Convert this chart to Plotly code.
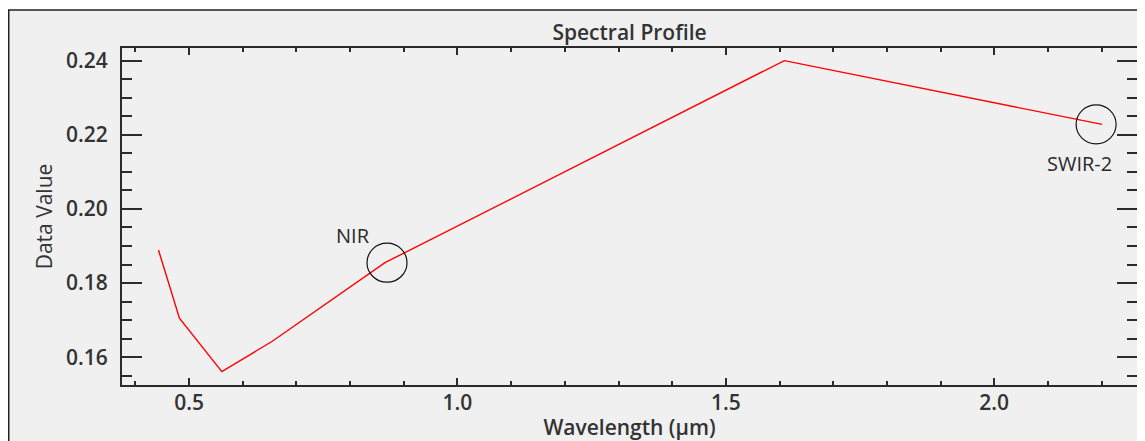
import plotly.graph_objects as go

# Data (Landsat 8 band centres, µm) and reflectance values
wavelength = [0.443, 0.482, 0.561, 0.655, 0.865, 1.609, 2.201]
data_value = [0.1889, 0.1705, 0.1561, 0.1643, 0.1855, 0.2400, 0.2228]
band_labels = ["NIR", "SWIR-2"]
band_index = [4, 6]

TXT = "#333333"
FONT = "Open Sans"

# page body has an 8px margin, so the figure is drawn 8px in from the top-left
W, H = 1137, 433
ML, MR, MT, MB = 114, 8, 40, 56
PW, PH = W - ML - MR, H - MT - MB

fig = go.Figure()
fig.add_trace(go.Scatter(
    x=wavelength, y=data_value, mode="lines",
    line=dict(color="#ff0000", width=1.4),
    showlegend=False, hoverinfo="x+y",
))

# outer frame (white strip above / left, grey panel with black border)
fig.add_shape(type="rect", xref="paper", yref="paper",
              x0=(0.75 - ML) / PW, x1=(W + 20 - ML) / PW,
              y0=(PH + MT - (H + 20)) / PH, y1=(PH + MT - 2) / PH,
              fillcolor="#f0f0f0", line=dict(color="#222222", width=1.5),
              layer="below")

# circles and labels around NIR and SWIR-2 points
circle_dx = [2, -6]
label_shift = [(-32, 27), (-23, -39)]
for lab, idx, dx, (sx, sy) in zip(band_labels, band_index, circle_dx, label_shift):
    xv, yv = wavelength[idx], data_value[idx]
    fig.add_shape(type="circle", xref="x", yref="y",
                  xsizemode="pixel", ysizemode="pixel",
                  xanchor=xv, yanchor=yv,
                  x0=dx - 20, x1=dx + 20, y0=-19.5, y1=19.5,
                  line=dict(color="#111111", width=1.2))
    fig.add_annotation(x=xv, y=yv, xref="x", yref="y", text=lab,
                       showarrow=False, xshift=sx, yshift=sy,
                       font=dict(family=FONT, size=20, color="#2a2a2a"))

axis_common = dict(
    showgrid=False, zeroline=False, showline=True, linecolor="#2b2b2b",
    linewidth=2, mirror="ticks", ticks="inside", tickcolor="#2b2b2b",
    tickwidth=1.6, automargin=False,
    tickfont=dict(family=FONT, size=21, color=TXT, weight=600),
)

fig.update_xaxes(
    **axis_common, range=[0.375, 2.266], tick0=0, dtick=0.5, tickformat=".1f",
    ticklen=7, ticklabelstandoff=-2,
    minor=dict(dtick=0.1, tick0=0, ticks="inside", ticklen=4, tickcolor="#2b2b2b",
               tickwidth=1.6, showgrid=False),
    title=dict(text="Wavelength (µm)", standoff=2,
               font=dict(family=FONT, size=21, color=TXT, weight=600)),
)
fig.update_yaxes(
    **axis_common, range=[0.1525, 0.2434], tick0=0, dtick=0.02, tickformat=".2f",
    ticklen=20, ticklabelstandoff=8,
    minor=dict(dtick=0.005, tick0=0, ticks="inside", ticklen=10, tickcolor="#2b2b2b",
               tickwidth=1.6, showgrid=False),
    title=dict(text="Data Value", standoff=8,
               font=dict(family=FONT, size=21, color=TXT)),
)

fig.update_layout(
    width=W, height=H,
    margin=dict(l=ML, r=MR, t=MT, b=MB),
    paper_bgcolor="white", plot_bgcolor="#f0f0f0",
    title=dict(text="Spectral Profile", x=0.5, xref="paper", xanchor="center",
               y=1 - 24.5 / H, yref="container", yanchor="middle",
               font=dict(family=FONT, size=21, color=TXT, weight=600)),
    showlegend=False,
)

fig.write_html("out.html")
